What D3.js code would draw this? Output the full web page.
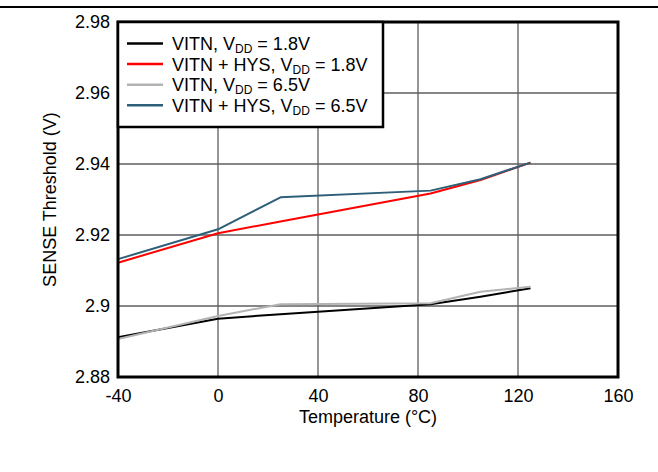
<!DOCTYPE html>
<html>
<head>
<meta charset="utf-8">
<script src="https://cdn.jsdelivr.net/npm/d3@7"></script>
<style>
  body { margin: 0; background: #fff; }
  svg { display: block; font-family: Arial, "Liberation Sans", sans-serif; }
</style>
</head>
<body>
<svg id="chart" width="658" height="472"></svg>
<script>
"use strict";
// temperatures (°C) at which each curve was measured
const temps = [-40, 0, 25, 85, 105, 125];
// threshold values (V)
const vitn18 = [2.8912, 2.8964, 2.8977, 2.9005, 2.9026, 2.9050];
const vitnHys18 = [2.9122, 2.9205, 2.9238, 2.9317, 2.9355, 2.9404];
const vitn65 = [2.8907, 2.8972, 2.9005, 2.9008, 2.9040, 2.9054];
const vitnHys65 = [2.9132, 2.9216, 2.9306, 2.9325, 2.9357, 2.9404];
const xTicks = [-40, 0, 40, 80, 120, 160];
const xTickLabels = ["-40", "0", "40", "80", "120", "160"];
const yTicks = [2.88, 2.9, 2.92, 2.94, 2.96, 2.98];
const yTickLabels = ["2.88", "2.9", "2.92", "2.94", "2.96", "2.98"];
const seriesNames = [
    ["VITN, V", "DD", " = 1.8V"],
    ["VITN + HYS, V", "DD", " = 1.8V"],
    ["VITN, V", "DD", " = 6.5V"],
    ["VITN + HYS, V", "DD", " = 6.5V"]
];
const seriesColors = ["#000000", "#ff0000", "#b3b3b3", "#2e5f78"];
const seriesValues = [vitn18, vitnHys18, vitn65, vitnHys65];

const svg = d3.select("#chart");
const plotLeft = 118, plotRight = 618, plotTop = 22, plotBottom = 377;

const x = d3.scaleLinear().domain([-40, 160]).range([plotLeft, plotRight]);
const y = d3.scaleLinear().domain([2.88, 2.98]).range([plotBottom, plotTop]);

// header rule
svg.append("line")
    .attr("x1", 0).attr("x2", 658)
    .attr("y1", 7).attr("y2", 7)
    .attr("stroke", "#000").attr("stroke-width", 2);

// grid
const grid = svg.append("g").attr("stroke", "#5e5e5e").attr("stroke-width", 1.3);
grid.selectAll("line.v")
    .data(xTicks.slice(1, -1))
    .enter().append("line")
    .attr("x1", (d) => x(d)).attr("x2", (d) => x(d))
    .attr("y1", plotTop).attr("y2", plotBottom);
grid.selectAll("line.h")
    .data(yTicks.slice(1, -1))
    .enter().append("line")
    .attr("x1", plotLeft).attr("x2", plotRight)
    .attr("y1", (d) => y(d)).attr("y2", (d) => y(d));

// axes (labels only, the frame is drawn separately)
const xAxis = svg.append("g")
    .attr("transform", `translate(0,${plotBottom})`)
    .call(d3.axisBottom(x).tickValues(xTicks).tickSize(0).tickPadding(12)
        .tickFormat((d, i) => xTickLabels[i]));
const yAxis = svg.append("g")
    .attr("transform", `translate(${plotLeft},0)`)
    .call(d3.axisLeft(y).tickValues(yTicks).tickSize(0).tickPadding(8)
        .tickFormat((d, i) => yTickLabels[i]));
[xAxis, yAxis].forEach((a) => {
    a.select(".domain").remove();
    a.selectAll("text").attr("font-size", 18).attr("fill", "#000")
        .attr("font-family", "Arial, 'Liberation Sans', sans-serif");
});

// data lines
const line = d3.line()
    .x((d, i) => x(temps[i]))
    .y((d) => y(d));
const drawOrder = [0, 2, 1, 3];
drawOrder.forEach((k) => {
    svg.append("path")
        .datum(seriesValues[k])
        .attr("fill", "none")
        .attr("stroke", seriesColors[k])
        .attr("stroke-width", 2)
        .attr("stroke-linejoin", "round")
        .attr("d", line);
});

// plot frame
svg.append("rect")
    .attr("x", plotLeft).attr("y", plotTop)
    .attr("width", plotRight - plotLeft).attr("height", plotBottom - plotTop)
    .attr("fill", "none").attr("stroke", "#000").attr("stroke-width", 3);

// legend
const legend = svg.append("g");
legend.append("rect")
    .attr("x", plotLeft).attr("y", plotTop)
    .attr("width", 265).attr("height", 105)
    .attr("fill", "#fff").attr("stroke", "#000").attr("stroke-width", 2.5);
seriesNames.forEach((name, i) => {
    const ly = 43.5 + i * 20.6;
    legend.append("line")
        .attr("x1", 127).attr("x2", 163)
        .attr("y1", ly).attr("y2", ly)
        .attr("stroke", seriesColors[i]).attr("stroke-width", 2.5);
    const t = legend.append("text")
        .attr("x", 172).attr("y", ly + 6.5)
        .attr("font-size", 18).attr("fill", "#000");
    t.append("tspan").text(name[0]);
    t.append("tspan").attr("font-size", 12).attr("dy", 3).text(name[1]);
    t.append("tspan").attr("dy", -3).text(name[2]);
});

// axis titles
svg.append("text")
    .attr("x", (plotLeft + plotRight) / 2).attr("y", 423)
    .attr("text-anchor", "middle").attr("font-size", 18)
    .text("Temperature (°C)");
svg.append("text")
    .attr("transform", `translate(56,${(plotTop + plotBottom) / 2}) rotate(-90)`)
    .attr("text-anchor", "middle").attr("font-size", 18)
    .text("SENSE Threshold (V)");
</script>
</body>
</html>
